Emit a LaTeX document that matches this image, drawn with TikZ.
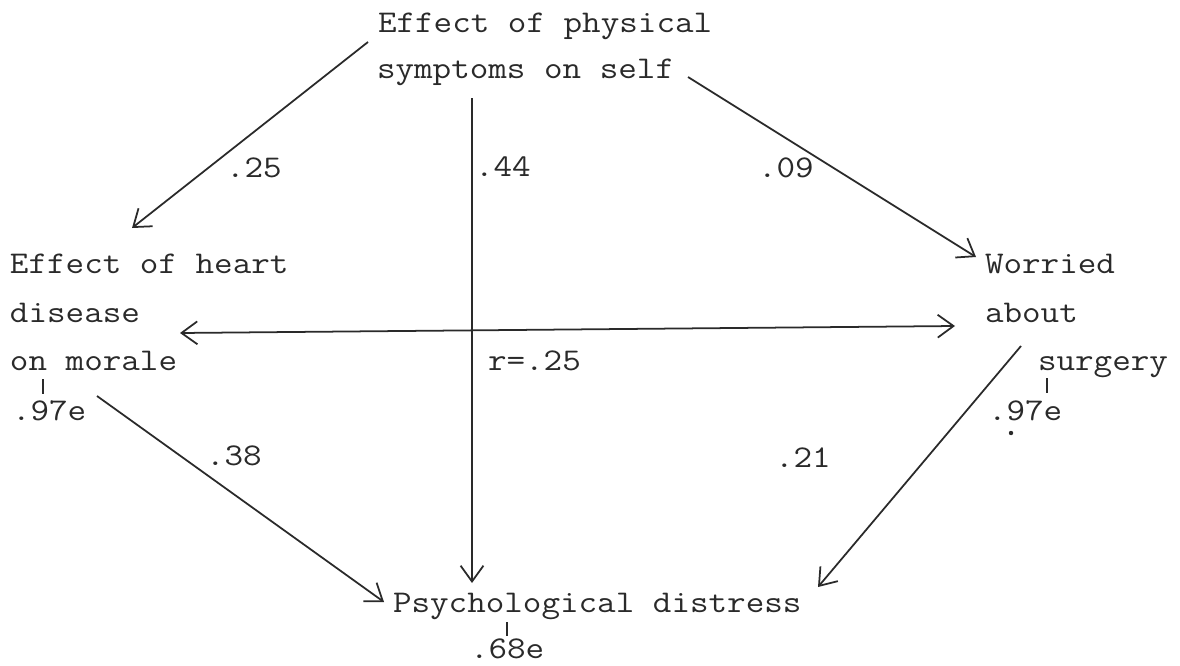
\documentclass[tikz,border=0pt]{standalone}
\usepackage{fontspec}
\usetikzlibrary{arrows.meta}
\definecolor{ink}{HTML}{2A2A2A}
\begin{document}
\begin{tikzpicture}[x=0.02cm,y=-0.02cm,
  lbl/.style={anchor=base west,inner sep=0pt,outer sep=0pt,text=ink,xscale=1.14,transform shape,font=\ttfamily\fontsize{18}{20}\selectfont},
  conn/.style={draw=ink,line width=1pt,-{Straight Barb[length=9pt,width=13pt,line width=1pt]}},
  both/.style={draw=ink,line width=1pt,{Straight Barb[length=9pt,width=13pt,line width=1pt]}-{Straight Barb[length=9pt,width=13pt,line width=1pt]}},
  tick/.style={draw=ink,line width=0.9pt}]
\useasboundingbox (0,0) rectangle (1180,666);
\fill[white] (0,0) rectangle (1180,666);
% texts
\node[lbl] (phys1) at (378,32) {Effect of physical};
\node[lbl] (phys2) at (377,78) {symptoms on self};
\node[lbl] (heart1) at (10,273) {Effect of heart};
\node[lbl] (heart2) at (10,322) {disease};
\node[lbl] (heart3) at (10,370) {on morale};
\node[lbl] (eheart) at (12,420) {.97e};
\node[lbl] (wor1) at (985,273) {Worried};
\node[lbl] (wor2) at (985,322) {about};
\node[lbl] (wor3) at (1038,370) {surgery};
\node[lbl] (ewor) at (988,420) {.97e};
\node[lbl] (psy) at (393,612) {Psychological distress};
\node[lbl] (epsy) at (470,658) {.68e};
\node[lbl] (c25) at (226,177) {.25};
\node[lbl] (c44) at (475,176) {.44};
\node[lbl] (c09) at (758,177) {.09};
\node[lbl] (r25) at (488,370) {r=.25};
\node[lbl] (c38) at (206,465) {.38};
\node[lbl] (c21) at (775,467) {.21};
% connector endpoints
\coordinate (a1) at (368,42);
\coordinate (b1) at (132,228);
\coordinate (a2) at (472,98);
\coordinate (b2) at (472,583);
\coordinate (a3) at (688,77);
\coordinate (b3) at (976,257);
\coordinate (a4) at (180,333);
\coordinate (b4) at (955,326);
\coordinate (a5) at (97,396);
\coordinate (b5) at (384,602);
\coordinate (a6) at (1021,346);
\coordinate (b6) at (818,587);
\draw[conn] (a1) -- (b1);
\draw[conn] (a2) -- (b2);
\draw[conn] (a3) -- (b3);
\draw[both] (a4) -- (b4);
\draw[conn] (a5) -- (b5);
\draw[conn] (a6) -- (b6);
% error ticks
\coordinate (t1a) at (43,379); \coordinate (t1b) at (43,394);
\coordinate (t2a) at (1047,378); \coordinate (t2b) at (1047,393);
\coordinate (t3a) at (507,622); \coordinate (t3b) at (507,636);
\draw[tick] (t1a) -- (t1b);
\draw[tick] (t2a) -- (t2b);
\draw[tick] (t3a) -- (t3b);
\fill[ink] (1011,433) circle (2.2);
\end{tikzpicture}
\end{document}
